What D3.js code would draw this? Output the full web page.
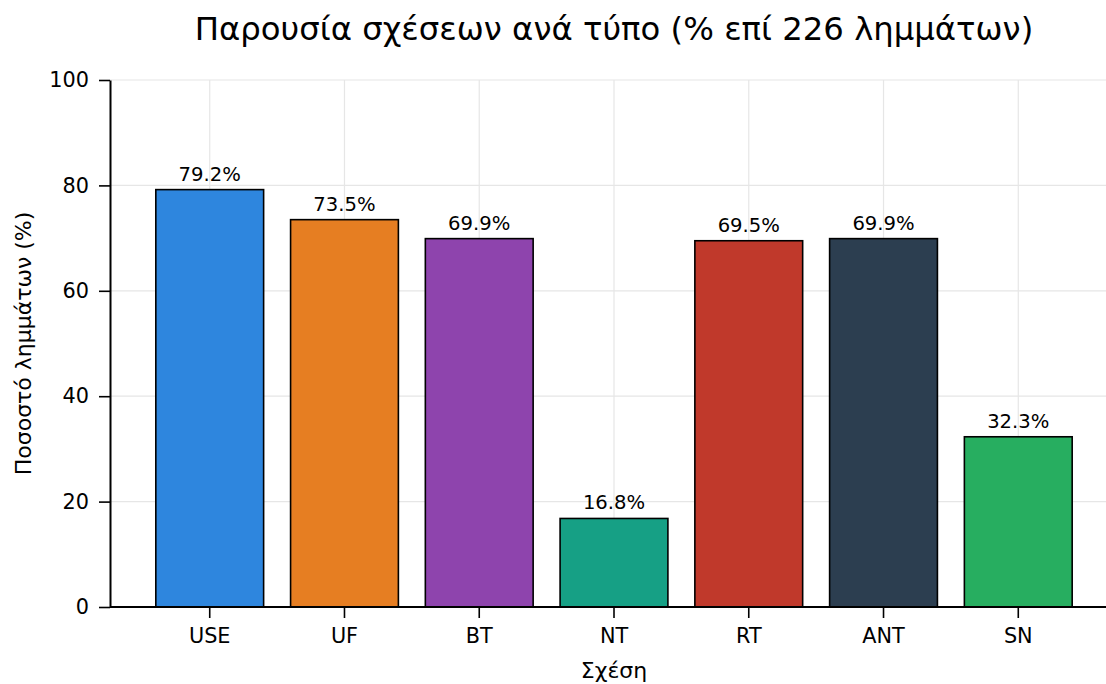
<!DOCTYPE html>
<html>
<head>
<meta charset="utf-8">
<script src="https://cdn.jsdelivr.net/npm/d3@7"></script>
<style>
  body { margin: 0; background: #fff; }
  text { font-family: "DejaVu Sans", sans-serif; fill: #000; }
</style>
</head>
<body>
<svg id="chart"></svg>
<script>
// relation types and share of lemmas (%)
let relations = ["USE", "UF", "BT", "NT", "RT", "ANT", "SN"];
let percents = [79.2, 73.5, 69.9, 16.8, 69.5, 69.9, 32.3];
let barColors = ["#2e86de", "#e67e22", "#8e44ad", "#16a085", "#c0392b", "#2c3e50", "#27ae60"];
let yTicks = [0, 20, 40, 60, 80, 100];

let width = 1106,
    height = 684;

let margin = {top: 80, right: -12, bottom: 77, left: 110};

let svg = d3.select("#chart")
    .attr("width", width)
    .attr("height", height);

let xScale = d3.scaleBand()
    .domain(relations)
    .range([margin.left, width - margin.right])
    .paddingInner(0.2)
    .paddingOuter(0.34);

let yScale = d3.scaleLinear()
    .domain([0, 100])
    .range([height - margin.bottom, margin.top]);

// grid
let grid = svg.append("g").attr("class", "grid");
grid.selectAll("line.h")
    .data(yTicks)
    .enter().append("line")
    .attr("x1", margin.left)
    .attr("x2", width)
    .attr("y1", d => yScale(d))
    .attr("y2", d => yScale(d))
    .attr("stroke", "#e6e6e6")
    .attr("stroke-width", 1.2);
grid.selectAll("line.v")
    .data(relations)
    .enter().append("line")
    .attr("x1", d => xScale(d) + xScale.bandwidth() / 2)
    .attr("x2", d => xScale(d) + xScale.bandwidth() / 2)
    .attr("y1", yScale(0))
    .attr("y2", yScale(100))
    .attr("stroke", "#e6e6e6")
    .attr("stroke-width", 1.2);

// bars
svg.append("g")
    .selectAll("rect")
    .data(relations)
    .enter().append("rect")
    .attr("x", d => xScale(d))
    .attr("y", (d, i) => yScale(percents[i]))
    .attr("width", xScale.bandwidth())
    .attr("height", (d, i) => yScale(0) - yScale(percents[i]))
    .attr("fill", (d, i) => barColors[i])
    .attr("stroke", "#000")
    .attr("stroke-width", 1.6);

// value labels
svg.append("g")
    .selectAll("text")
    .data(relations)
    .enter().append("text")
    .attr("x", d => xScale(d) + xScale.bandwidth() / 2)
    .attr("y", (d, i) => yScale(percents[i]) - 9)
    .attr("text-anchor", "middle")
    .style("font-size", "19.6px")
    .text((d, i) => percents[i].toFixed(1) + "%");

// axes
let xAxis = svg.append("g")
    .attr("transform", "translate(0," + yScale(0) + ")")
    .call(d3.axisBottom(xScale).tickSize(11).tickPadding(10).tickSizeOuter(0));
xAxis.select(".domain").attr("d", "M" + margin.left + ",0H" + width);

let yAxis = svg.append("g")
    .attr("transform", "translate(" + margin.left + ",0)")
    .call(d3.axisLeft(yScale).tickValues(yTicks).tickSize(11).tickPadding(10).tickSizeOuter(0));

svg.selectAll(".tick text").style("font-size", "20.8px").attr("fill", "#000");
svg.selectAll(".domain, .tick line").attr("stroke", "#000").attr("stroke-width", 2);
xAxis.selectAll(".tick line").attr("stroke-width", 1.6);
yAxis.selectAll(".tick line").attr("stroke-width", 1.6);

// titles
svg.append("text")
    .attr("x", 614)
    .attr("y", 40)
    .attr("text-anchor", "middle")
    .style("font-size", "32.3px")
    .text("Παρουσία σχέσεων ανά τύπο (% επί 226 λημμάτων)");

svg.append("text")
    .attr("x", 614)
    .attr("y", 678)
    .attr("text-anchor", "middle")
    .style("font-size", "22px")
    .text("Σχέση");

svg.append("text")
    .attr("transform", "translate(31," + yScale(50) + ") rotate(-90)")
    .attr("text-anchor", "middle")
    .style("font-size", "22px")
    .text("Ποσοστό λημμάτων (%)");
</script>
</body>
</html>
